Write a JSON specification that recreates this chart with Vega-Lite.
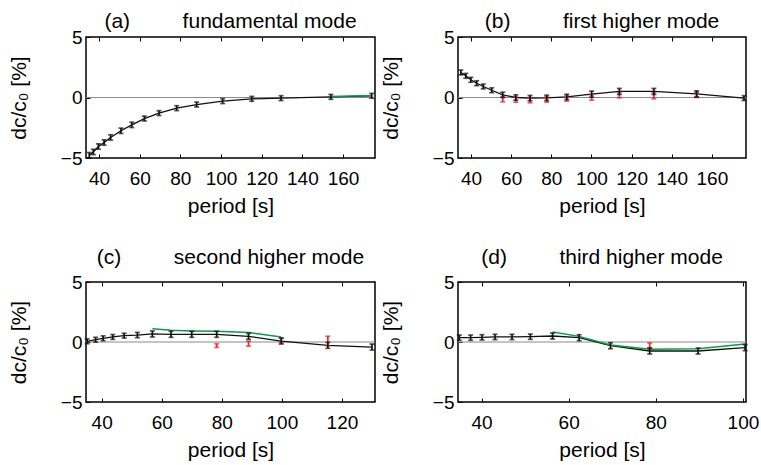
{
  "$schema": "https://vega.github.io/schema/vega-lite/v6.json",
  "autosize": {"type": "none"},
  "padding": {"left": 86, "top": 37, "right": 675, "bottom": 428},
  "bounds": "flush",
  "columns": 2,
  "spacing": {"row": 124, "column": 83},
  "datasets": {
    "pts": [
      {"panel": "a", "series": "main", "period": 35.2, "dc": -4.77, "err": 0.22},
      {"panel": "a", "series": "main", "period": 37.2, "dc": -4.5, "err": 0.22},
      {"panel": "a", "series": "main", "period": 39.7, "dc": -4.05, "err": 0.22},
      {"panel": "a", "series": "main", "period": 42.5, "dc": -3.72, "err": 0.22},
      {"panel": "a", "series": "main", "period": 45.7, "dc": -3.3, "err": 0.22},
      {"panel": "a", "series": "main", "period": 50.8, "dc": -2.75, "err": 0.22},
      {"panel": "a", "series": "main", "period": 56.1, "dc": -2.26, "err": 0.22},
      {"panel": "a", "series": "main", "period": 62.3, "dc": -1.74, "err": 0.2},
      {"panel": "a", "series": "main", "period": 69.5, "dc": -1.29, "err": 0.2},
      {"panel": "a", "series": "main", "period": 78.2, "dc": -0.88, "err": 0.2},
      {"panel": "a", "series": "main", "period": 88.0, "dc": -0.58, "err": 0.2},
      {"panel": "a", "series": "main", "period": 100.8, "dc": -0.3, "err": 0.2},
      {"panel": "a", "series": "main", "period": 115.1, "dc": -0.11, "err": 0.2},
      {"panel": "a", "series": "main", "period": 129.5, "dc": -0.05, "err": 0.2},
      {"panel": "a", "series": "main", "period": 154.0, "dc": 0.05, "err": 0.2},
      {"panel": "a", "series": "main", "period": 174.1, "dc": 0.14, "err": 0.2},
      {"panel": "a", "series": "alt", "period": 154.0, "dc": 0.08, "err": 0},
      {"panel": "a", "series": "alt", "period": 174.1, "dc": 0.16, "err": 0},

      {"panel": "b", "series": "main", "period": 34.9, "dc": 2.07, "err": 0.2},
      {"panel": "b", "series": "main", "period": 37.4, "dc": 1.79, "err": 0.2},
      {"panel": "b", "series": "main", "period": 39.9, "dc": 1.46, "err": 0.2},
      {"panel": "b", "series": "main", "period": 42.8, "dc": 1.18, "err": 0.2},
      {"panel": "b", "series": "main", "period": 46.1, "dc": 0.91, "err": 0.2},
      {"panel": "b", "series": "main", "period": 50.3, "dc": 0.6, "err": 0.2},
      {"panel": "b", "series": "main", "period": 55.8, "dc": 0.22, "err": 0.22},
      {"panel": "b", "series": "main", "period": 62.3, "dc": 0.0, "err": 0.22},
      {"panel": "b", "series": "main", "period": 69.4, "dc": -0.05, "err": 0.22},
      {"panel": "b", "series": "main", "period": 77.7, "dc": -0.03, "err": 0.22},
      {"panel": "b", "series": "main", "period": 87.7, "dc": 0.05, "err": 0.22},
      {"panel": "b", "series": "main", "period": 100.1, "dc": 0.28, "err": 0.25},
      {"panel": "b", "series": "main", "period": 113.9, "dc": 0.5, "err": 0.25},
      {"panel": "b", "series": "main", "period": 131.1, "dc": 0.5, "err": 0.25},
      {"panel": "b", "series": "main", "period": 152.4, "dc": 0.3, "err": 0.25},
      {"panel": "b", "series": "main", "period": 176.0, "dc": -0.05, "err": 0.2},
      {"panel": "b", "series": "red", "period": 55.8, "dc": -0.14, "err": 0.22},
      {"panel": "b", "series": "red", "period": 62.3, "dc": -0.17, "err": 0.22},
      {"panel": "b", "series": "red", "period": 69.4, "dc": -0.22, "err": 0.22},
      {"panel": "b", "series": "red", "period": 77.7, "dc": -0.17, "err": 0.22},
      {"panel": "b", "series": "red", "period": 87.7, "dc": -0.08, "err": 0.22},
      {"panel": "b", "series": "red", "period": 100.1, "dc": 0.0, "err": 0.22},
      {"panel": "b", "series": "red", "period": 113.9, "dc": 0.19, "err": 0.22},
      {"panel": "b", "series": "red", "period": 131.1, "dc": 0.14, "err": 0.25},
      {"panel": "b", "series": "red", "period": 152.4, "dc": 0.22, "err": 0.22},

      {"panel": "c", "series": "main", "period": 35.2, "dc": 0.06, "err": 0.2},
      {"panel": "c", "series": "main", "period": 38.0, "dc": 0.19, "err": 0.2},
      {"panel": "c", "series": "main", "period": 40.5, "dc": 0.31, "err": 0.2},
      {"panel": "c", "series": "main", "period": 43.7, "dc": 0.42, "err": 0.2},
      {"panel": "c", "series": "main", "period": 47.5, "dc": 0.53, "err": 0.2},
      {"panel": "c", "series": "main", "period": 51.9, "dc": 0.58, "err": 0.22},
      {"panel": "c", "series": "main", "period": 56.9, "dc": 0.67, "err": 0.25},
      {"panel": "c", "series": "main", "period": 63.1, "dc": 0.64, "err": 0.25},
      {"panel": "c", "series": "main", "period": 70.0, "dc": 0.64, "err": 0.25},
      {"panel": "c", "series": "main", "period": 78.3, "dc": 0.64, "err": 0.25},
      {"panel": "c", "series": "main", "period": 88.9, "dc": 0.47, "err": 0.25},
      {"panel": "c", "series": "main", "period": 99.8, "dc": 0.08, "err": 0.25},
      {"panel": "c", "series": "main", "period": 115.3, "dc": -0.28, "err": 0.25},
      {"panel": "c", "series": "main", "period": 130.0, "dc": -0.42, "err": 0.25},
      {"panel": "c", "series": "alt", "period": 56.9, "dc": 1.11, "err": 0},
      {"panel": "c", "series": "alt", "period": 63.1, "dc": 0.97, "err": 0},
      {"panel": "c", "series": "alt", "period": 70.0, "dc": 0.92, "err": 0},
      {"panel": "c", "series": "alt", "period": 78.3, "dc": 0.89, "err": 0},
      {"panel": "c", "series": "alt", "period": 88.9, "dc": 0.8, "err": 0},
      {"panel": "c", "series": "alt", "period": 99.8, "dc": 0.42, "err": 0},
      {"panel": "c", "series": "red", "period": 78.3, "dc": -0.3, "err": 0.15},
      {"panel": "c", "series": "red", "period": 88.9, "dc": -0.14, "err": 0.2},
      {"panel": "c", "series": "red", "period": 99.8, "dc": 0.14, "err": 0.2},
      {"panel": "c", "series": "red", "period": 115.3, "dc": 0.08, "err": 0.4},

      {"panel": "d", "series": "main", "period": 34.9, "dc": 0.36, "err": 0.22},
      {"panel": "d", "series": "main", "period": 37.5, "dc": 0.36, "err": 0.22},
      {"panel": "d", "series": "main", "period": 40.1, "dc": 0.39, "err": 0.22},
      {"panel": "d", "series": "main", "period": 43.1, "dc": 0.42, "err": 0.22},
      {"panel": "d", "series": "main", "period": 47.0, "dc": 0.42, "err": 0.22},
      {"panel": "d", "series": "main", "period": 51.2, "dc": 0.44, "err": 0.22},
      {"panel": "d", "series": "main", "period": 56.3, "dc": 0.5, "err": 0.25},
      {"panel": "d", "series": "main", "period": 62.4, "dc": 0.36, "err": 0.25},
      {"panel": "d", "series": "main", "period": 69.6, "dc": -0.31, "err": 0.25},
      {"panel": "d", "series": "main", "period": 78.6, "dc": -0.75, "err": 0.25},
      {"panel": "d", "series": "main", "period": 89.7, "dc": -0.75, "err": 0.25},
      {"panel": "d", "series": "main", "period": 100.5, "dc": -0.47, "err": 0.25},
      {"panel": "d", "series": "alt", "period": 56.3, "dc": 0.83, "err": 0},
      {"panel": "d", "series": "alt", "period": 62.4, "dc": 0.47, "err": 0},
      {"panel": "d", "series": "alt", "period": 69.6, "dc": -0.25, "err": 0},
      {"panel": "d", "series": "alt", "period": 78.6, "dc": -0.61, "err": 0},
      {"panel": "d", "series": "alt", "period": 89.7, "dc": -0.56, "err": 0},
      {"panel": "d", "series": "alt", "period": 100.5, "dc": -0.17, "err": 0},
      {"panel": "d", "series": "red", "period": 78.6, "dc": -0.28, "err": 0.2}
    ]
  },
  "concat": [
    {
      "width": 289, "height": 121,
      "title": {"text": "(a)\u00a0\u00a0\u00a0\u00a0\u00a0\u00a0\u00a0\u00a0\u00a0fundamental mode", "fontWeight": 400},
      "data": {"name": "pts"},
      "transform": [{"filter": "datum.panel === 'a'"}],
      "resolve": {"axis": {"x": "independent", "y": "independent"}},
      "layer": [
        {"data": {"values": [{}]}, "mark": {"type": "rule", "color": "#8a8a8a", "strokeWidth": 1.2},
         "encoding": {"y": {"datum": 0, "type": "quantitative", "scale": {"domain": [-5, 5], "nice": false}, "axis": null}}},
        {"transform": [{"filter": "datum.series === 'main'"}], "mark": {"type": "line", "color": "#111", "strokeWidth": 1.3},
         "encoding": {
           "x": {"field": "period", "type": "quantitative", "scale": {"domain": [33.6, 175.7], "nice": false, "zero": false}, "axis": {"values": [40, 60, 80, 100, 120, 140, 160], "title": "period [s]", "titleFontWeight": 400}},
           "y": {"field": "dc", "type": "quantitative", "scale": {"domain": [-5, 5], "nice": false}, "axis": {"values": [-5, 0, 5], "title": "dc/c₀ [%]", "titleFontWeight": 400}}}},
        {"transform": [{"filter": "datum.series === 'alt'"}], "mark": {"type": "line", "color": "#0a9a48", "strokeWidth": 1.5},
         "encoding": {"x": {"field": "period", "type": "quantitative", "axis": null}, "y": {"field": "dc", "type": "quantitative", "axis": null}}},
        {"transform": [{"filter": "datum.series === 'main'"}], "mark": {"type": "errorbar", "color": "#111", "thickness": 1.7, "ticks": {"size": 5, "thickness": 1.7}},
         "encoding": {"x": {"field": "period", "type": "quantitative", "axis": null}, "y": {"field": "dc", "type": "quantitative", "axis": null}, "yError": {"field": "err"}}},
        {"transform": [{"filter": "datum.series === 'main'"}], "mark": {"type": "point", "opacity": 0},
         "encoding": {"x": {"field": "period", "type": "quantitative", "axis": {"orient": "top", "labels": false, "labelPadding": 0, "title": null, "values": [40, 60, 80, 100, 120, 140, 160]}}, "y": {"field": "dc", "type": "quantitative", "axis": null}}}
      ]
    },
    {
      "width": 288, "height": 121,
      "title": {"text": "(b)\u00a0\u00a0\u00a0\u00a0\u00a0\u00a0\u00a0\u00a0\u00a0first higher mode", "fontWeight": 400},
      "data": {"name": "pts"},
      "transform": [{"filter": "datum.panel === 'b'"}],
      "resolve": {"axis": {"x": "independent", "y": "independent"}},
      "layer": [
        {"data": {"values": [{}]}, "mark": {"type": "rule", "color": "#8a8a8a", "strokeWidth": 1.2},
         "encoding": {"y": {"datum": 0, "type": "quantitative", "scale": {"domain": [-5, 5], "nice": false}, "axis": null}}},
        {"transform": [{"filter": "datum.series === 'main'"}], "mark": {"type": "line", "color": "#111", "strokeWidth": 1.3},
         "encoding": {
           "x": {"field": "period", "type": "quantitative", "scale": {"domain": [33.5, 177], "nice": false, "zero": false}, "axis": {"values": [40, 60, 80, 100, 120, 140, 160], "title": "period [s]", "titleFontWeight": 400}},
           "y": {"field": "dc", "type": "quantitative", "scale": {"domain": [-5, 5], "nice": false}, "axis": {"values": [-5, 0, 5], "title": "dc/c₀ [%]", "titleFontWeight": 400}}}},
        {"transform": [{"filter": "datum.series === 'red'"}], "mark": {"type": "errorbar", "color": "#e8242c", "thickness": 1.7, "ticks": {"size": 5, "thickness": 1.7}},
         "encoding": {"x": {"field": "period", "type": "quantitative", "axis": null}, "y": {"field": "dc", "type": "quantitative", "axis": null}, "yError": {"field": "err"}}},
        {"transform": [{"filter": "datum.series === 'main'"}], "mark": {"type": "errorbar", "color": "#111", "thickness": 1.7, "ticks": {"size": 5, "thickness": 1.7}},
         "encoding": {"x": {"field": "period", "type": "quantitative", "axis": null}, "y": {"field": "dc", "type": "quantitative", "axis": null}, "yError": {"field": "err"}}},
        {"transform": [{"filter": "datum.series === 'main'"}], "mark": {"type": "point", "opacity": 0},
         "encoding": {"x": {"field": "period", "type": "quantitative", "axis": {"orient": "top", "labels": false, "labelPadding": 0, "title": null, "values": [40, 60, 80, 100, 120, 140, 160]}}, "y": {"field": "dc", "type": "quantitative", "axis": null}}}
      ]
    },
    {
      "width": 289, "height": 120,
      "title": {"text": "(c)\u00a0\u00a0\u00a0\u00a0\u00a0\u00a0\u00a0\u00a0\u00a0second higher mode", "fontWeight": 400, "offset": 5},
      "data": {"name": "pts"},
      "transform": [{"filter": "datum.panel === 'c'"}],
      "resolve": {"axis": {"x": "independent", "y": "independent"}},
      "layer": [
        {"data": {"values": [{}]}, "mark": {"type": "rule", "color": "#8a8a8a", "strokeWidth": 1.2},
         "encoding": {"y": {"datum": 0, "type": "quantitative", "scale": {"domain": [-5, 5], "nice": false}, "axis": null}}},
        {"transform": [{"filter": "datum.series === 'main'"}], "mark": {"type": "line", "color": "#111", "strokeWidth": 1.3},
         "encoding": {
           "x": {"field": "period", "type": "quantitative", "scale": {"domain": [34.8, 131], "nice": false, "zero": false}, "axis": {"values": [40, 60, 80, 100, 120], "title": "period [s]", "titleFontWeight": 400}},
           "y": {"field": "dc", "type": "quantitative", "scale": {"domain": [-5, 5], "nice": false}, "axis": {"values": [-5, 0, 5], "title": "dc/c₀ [%]", "titleFontWeight": 400}}}},
        {"transform": [{"filter": "datum.series === 'alt'"}], "mark": {"type": "line", "color": "#0a9a48", "strokeWidth": 1.5},
         "encoding": {"x": {"field": "period", "type": "quantitative", "axis": null}, "y": {"field": "dc", "type": "quantitative", "axis": null}}},
        {"transform": [{"filter": "datum.series === 'red'"}], "mark": {"type": "errorbar", "color": "#e8242c", "thickness": 1.7, "ticks": {"size": 5, "thickness": 1.7}},
         "encoding": {"x": {"field": "period", "type": "quantitative", "axis": null}, "y": {"field": "dc", "type": "quantitative", "axis": null}, "yError": {"field": "err"}}},
        {"transform": [{"filter": "datum.series === 'main'"}], "mark": {"type": "errorbar", "color": "#111", "thickness": 1.7, "ticks": {"size": 5, "thickness": 1.7}},
         "encoding": {"x": {"field": "period", "type": "quantitative", "axis": null}, "y": {"field": "dc", "type": "quantitative", "axis": null}, "yError": {"field": "err"}}},
        {"transform": [{"filter": "datum.series === 'main'"}], "mark": {"type": "point", "opacity": 0},
         "encoding": {"x": {"field": "period", "type": "quantitative", "axis": {"orient": "top", "labels": false, "labelPadding": 0, "title": null, "values": [40, 60, 80, 100, 120]}}, "y": {"field": "dc", "type": "quantitative", "axis": null}}}
      ]
    },
    {
      "width": 288, "height": 120,
      "title": {"text": "(d)\u00a0\u00a0\u00a0\u00a0\u00a0\u00a0\u00a0\u00a0\u00a0third higher mode", "fontWeight": 400, "offset": 5},
      "data": {"name": "pts"},
      "transform": [{"filter": "datum.panel === 'd'"}],
      "resolve": {"axis": {"x": "independent", "y": "independent"}},
      "layer": [
        {"data": {"values": [{}]}, "mark": {"type": "rule", "color": "#8a8a8a", "strokeWidth": 1.2},
         "encoding": {"y": {"datum": 0, "type": "quantitative", "scale": {"domain": [-5, 5], "nice": false}, "axis": null}}},
        {"transform": [{"filter": "datum.series === 'main'"}], "mark": {"type": "line", "color": "#111", "strokeWidth": 1.3},
         "encoding": {
           "x": {"field": "period", "type": "quantitative", "scale": {"domain": [34.6, 100.7], "nice": false, "zero": false}, "axis": {"values": [40, 60, 80, 100], "title": "period [s]", "titleFontWeight": 400}},
           "y": {"field": "dc", "type": "quantitative", "scale": {"domain": [-5, 5], "nice": false}, "axis": {"values": [-5, 0, 5], "title": "dc/c₀ [%]", "titleFontWeight": 400}}}},
        {"transform": [{"filter": "datum.series === 'alt'"}], "mark": {"type": "line", "color": "#0a9a48", "strokeWidth": 1.5},
         "encoding": {"x": {"field": "period", "type": "quantitative", "axis": null}, "y": {"field": "dc", "type": "quantitative", "axis": null}}},
        {"transform": [{"filter": "datum.series === 'red'"}], "mark": {"type": "errorbar", "color": "#e8242c", "thickness": 1.7, "ticks": {"size": 5, "thickness": 1.7}},
         "encoding": {"x": {"field": "period", "type": "quantitative", "axis": null}, "y": {"field": "dc", "type": "quantitative", "axis": null}, "yError": {"field": "err"}}},
        {"transform": [{"filter": "datum.series === 'main'"}], "mark": {"type": "errorbar", "color": "#111", "thickness": 1.7, "ticks": {"size": 5, "thickness": 1.7}},
         "encoding": {"x": {"field": "period", "type": "quantitative", "axis": null}, "y": {"field": "dc", "type": "quantitative", "axis": null}, "yError": {"field": "err"}}},
        {"transform": [{"filter": "datum.series === 'main'"}], "mark": {"type": "point", "opacity": 0},
         "encoding": {"x": {"field": "period", "type": "quantitative", "axis": {"orient": "top", "labels": false, "labelPadding": 0, "title": null, "values": [40, 60, 80, 100]}}, "y": {"field": "dc", "type": "quantitative", "axis": null}}}
      ]
    }
  ],
  "config": {
    "font": "Liberation Sans",
    "background": "white",
    "view": {"stroke": "#000", "strokeWidth": 1.5},
    "axis": {"grid": false, "domain": false, "labelFont": "Liberation Sans", "titleFont": "Liberation Sans", "labelFontSize": 19, "titleFontSize": 21, "titleFontWeight": 400, "labelColor": "#000", "titleColor": "#000", "tickColor": "#000", "tickSize": -4, "tickWidth": 1, "labelFlush": false, "labelOverlap": false},
    "axisX": {"labelPadding": 15, "titlePadding": 7, "titleFontWeight": 400},
    "axisY": {"labelPadding": 8, "titlePadding": 31, "titleFontWeight": 400},
    "title": {"font": "Liberation Sans", "fontSize": 21, "fontWeight": 400, "color": "#000", "anchor": "middle", "baseline": "alphabetic", "offset": -4}
  }
}
